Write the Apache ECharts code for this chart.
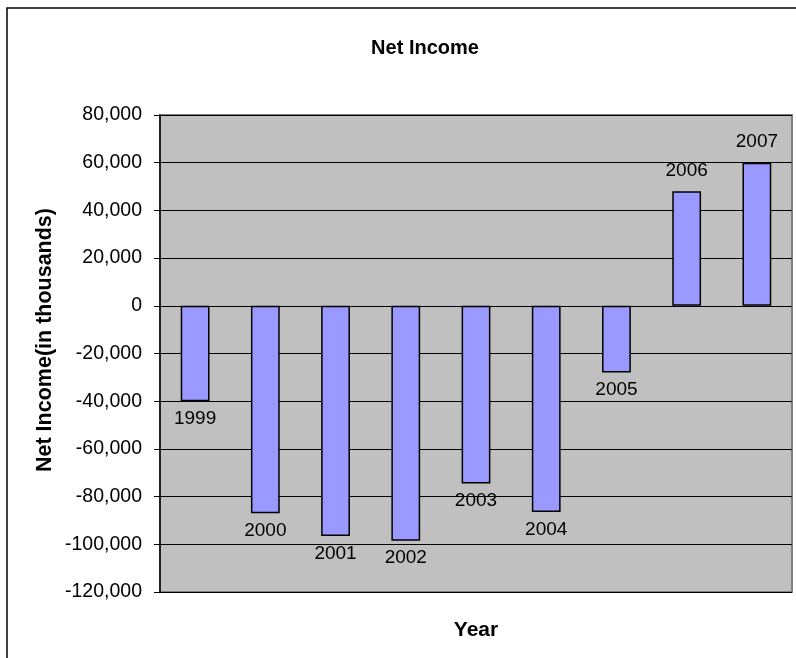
<!DOCTYPE html>
<html>
<head>
<meta charset="utf-8">
<script src="https://cdn.jsdelivr.net/npm/echarts@6/dist/echarts.min.js"></script>
<style>
  html, body { margin: 0; padding: 0; background: #ffffff; }
  #chart { width: 796px; height: 658px; }
</style>
</head>
<body>
<div id="chart"></div>
<script>
// Net income per fiscal year, in thousands
const years = ['1999', '2000', '2001', '2002', '2003', '2004', '2005', '2006', '2007'];
const netIncome = [-40000, -87000, -96500, -98500, -74500, -86500, -28000, 48000, 60000];
const yTicks = { min: -120000, max: 80000, interval: 20000 };

const FONT = '"Liberation Sans", Arial, sans-serif';

const chart = echarts.init(document.getElementById('chart'), null, { renderer: 'canvas' });

const fmt = v => (v < 0 ? '-' : '') + Math.abs(v).toString().replace(/\B(?=(\d{3})+(?!\d))/g, ',');

chart.setOption({
  backgroundColor: '#ffffff',
  animation: false,
  title: {
    text: 'Net Income',
    left: 420,
    top: 33,
    textAlign: 'center',
    textStyle: { fontFamily: FONT, fontWeight: 'bold', fontSize: 20, color: '#000' }
  },
  grid: {
    left: 160, right: 4, top: 115, bottom: 66,
    show: true,
    backgroundColor: '#C0C0C0',
    borderColor: '#808080',
    borderWidth: 2
  },
  xAxis: {
    type: 'category',
    data: years,
    name: 'Year',
    nameLocation: 'middle',
    nameGap: 28,
    nameTextStyle: { fontFamily: FONT, fontWeight: 'bold', fontSize: 21, color: '#000' },
    axisLine: { show: false, onZero: false },
    axisTick: { show: false },
    axisLabel: { show: false },
    splitLine: { show: false }
  },
  yAxis: {
    type: 'value',
    min: yTicks.min,
    max: yTicks.max,
    interval: yTicks.interval,
    axisLine: { show: true, lineStyle: { color: '#000', width: 1.5 } },
    axisTick: { show: true, length: 6, lineStyle: { color: '#000' } },
    axisLabel: {
      margin: 18,
      fontFamily: FONT, fontSize: 19.5, color: '#000',
      formatter: fmt
    },
    splitLine: { show: true, lineStyle: { color: '#000', width: 1 } }
  },
  series: [{
    type: 'bar',
    barWidth: '41%',
    data: netIncome.map(v => ({
      value: v,
      label: { position: v < 0 ? 'bottom' : 'top', distance: v < 0 ? 8 : 11 }
    })),
    itemStyle: { color: '#9999FF', borderColor: '#000', borderWidth: 1.5 },
    label: {
      show: true,
      formatter: '{b}',
      fontFamily: FONT, fontSize: 19, color: '#000'
    }
  }],
  graphic: [
    {
      type: 'rect',
      shape: { x: 7, y: 8, width: 830, height: 700 },
      style: { fill: 'none', stroke: '#000', lineWidth: 1.5 },
      silent: true
    },
    {
      type: 'text',
      x: 45, y: 340,
      rotation: Math.PI / 2,
      style: {
        text: 'Net Income(in thousands)',
        fontFamily: FONT, fontWeight: 'bold', fontSize: 21.5, fill: '#000',
        align: 'center', verticalAlign: 'middle'
      }
    }
  ]
});
</script>
</body>
</html>
